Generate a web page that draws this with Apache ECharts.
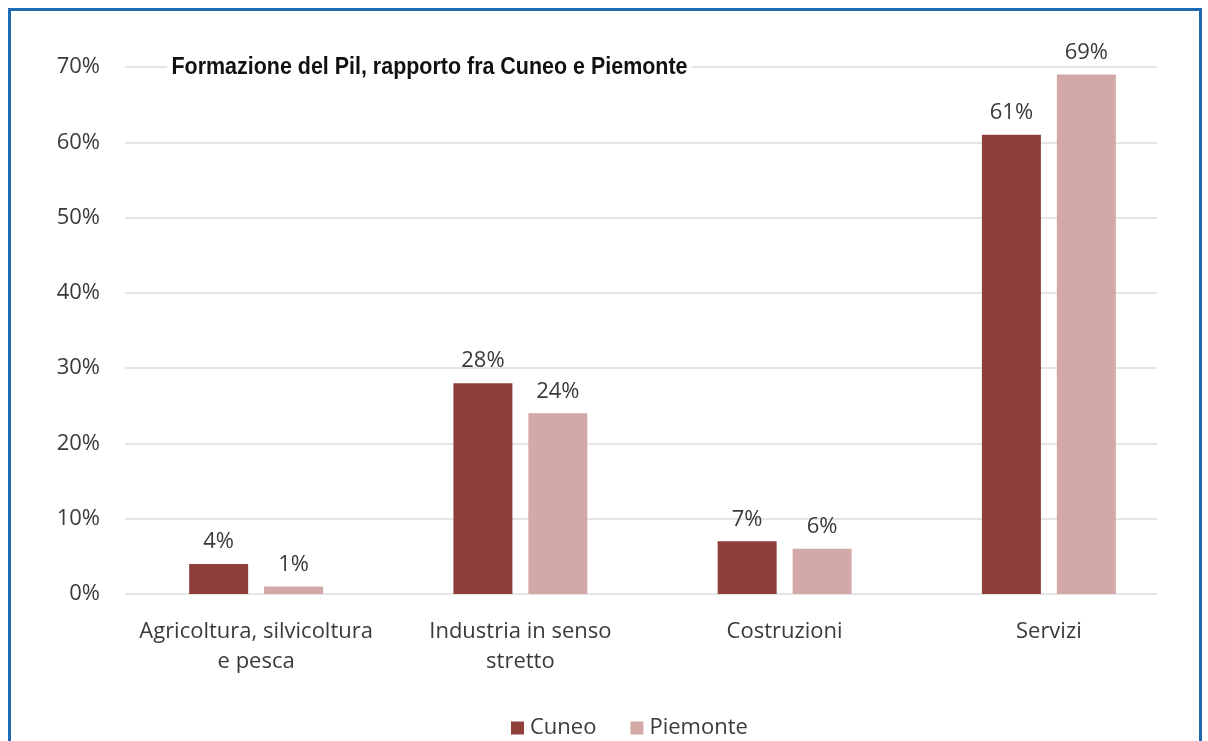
<!DOCTYPE html>
<html>
<head>
<meta charset="utf-8">
<script src="https://cdn.jsdelivr.net/npm/echarts@6/dist/echarts.min.js"></script>
<style>
html,body{margin:0;padding:0;background:#fff;}
#frame{position:absolute;left:8px;top:8px;width:1194px;height:760px;border:3px solid #1f6bb3;box-sizing:border-box;}
#chart{position:absolute;left:0;top:0;width:1208px;height:741px;}
</style>
</head>
<body>
<div id="frame"></div>
<div id="chart"></div>
<script>
const titleText = 'Formazione del Pil, rapporto fra Cuneo e Piemonte';
const categories = ['Agricoltura, silvicoltura\ne pesca', 'Industria in senso\nstretto', 'Costruzioni', 'Servizi'];
const seriesNames = ['Cuneo', 'Piemonte'];
const cuneo = [4, 28, 7, 61];
const piemonte = [1, 24, 6, 69];
const yTicks = [0, 10, 20, 30, 40, 50, 60, 70];

const colors = ['#8f3f3a', '#d3a9a7'];
const fontFam = '"Open Sans", Lato, sans-serif';
const textColor = '#3a3a3a';

// title: condensed look via horizontal scaling
const titleFont = 'bold 24px "Liberation Sans", sans-serif';
const mc = document.createElement('canvas').getContext('2d');
mc.font = titleFont;
const titleW = mc.measureText(titleText).width;
const titleScale = 516 / titleW;

const chart = echarts.init(document.getElementById('chart'));
const labelCfg = {show: true, position: 'top', distance: 11, formatter: '{c}%', fontSize: 22, color: textColor, fontFamily: fontFam};
chart.setOption({
  animation: false,
  color: colors,
  graphic: [{
    type: 'text', x: 167, y: 67, scaleX: titleScale, scaleY: 1, z: 100,
    style: {text: titleText, font: titleFont, fill: '#111', textVerticalAlign: 'middle', textAlign: 'left',
      backgroundColor: '#fff', padding: [4, 5, 4, 5]}
  }],
  legend: {data: seriesNames, left: 506, top: 712, itemWidth: 13, itemHeight: 13, itemGap: 34, icon: 'rect',
    textStyle: {fontSize: 22, color: textColor, fontFamily: fontFam, padding: [0, 0, 0, 1]}},
  grid: [
    {left: 124, right: 27, top: 67, bottom: 147},
    {left: 125, right: 51, top: 67, bottom: 147}
  ],
  xAxis: [
    {type: 'category', gridIndex: 0, data: categories, axisLine: {show: false}, axisTick: {show: false},
      axisLabel: {interval: 0, margin: 23, fontSize: 22, lineHeight: 30, color: textColor, fontFamily: fontFam}},
    {type: 'value', gridIndex: 1, show: false, min: 0, max: 1}
  ],
  yAxis: [
    {type: 'value', gridIndex: 0, min: yTicks[0], max: yTicks[yTicks.length-1], interval: 10, show: false},
    {type: 'value', gridIndex: 1, min: yTicks[0], max: yTicks[yTicks.length-1], interval: 10,
      axisLine: {show: false}, axisTick: {show: false},
      axisLabel: {formatter: '{value}%', fontSize: 22, color: textColor, margin: 25, fontFamily: fontFam},
      splitLine: {lineStyle: {color: '#dcdcdc', width: 1.5}}}
  ],
  series: [
    {name: seriesNames[0], type: 'bar', xAxisIndex: 0, yAxisIndex: 0, data: cuneo, barWidth: 59, barGap: '27%', label: labelCfg, itemStyle: {color: colors[0]}},
    {name: seriesNames[1], type: 'bar', xAxisIndex: 0, yAxisIndex: 0, data: piemonte, barWidth: 59, barGap: '27%', label: labelCfg, itemStyle: {color: colors[1]}}
  ]
});
</script>
</body>
</html>
